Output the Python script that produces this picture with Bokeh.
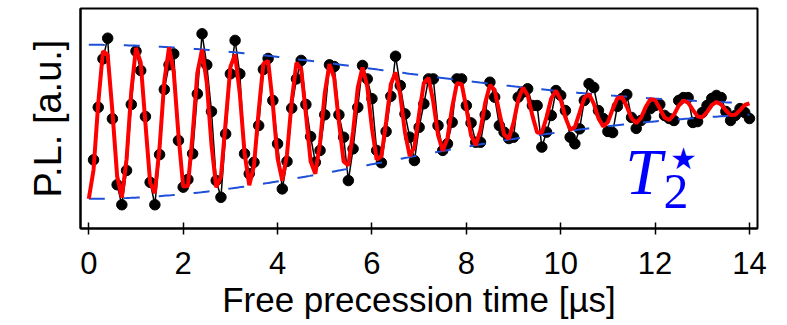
import numpy as np
from bokeh.plotting import figure
from bokeh.models import Range1d, FixedTicker, Label
from bokeh.embed import file_html
from bokeh.resources import INLINE

# ---- measured Ramsey signal (normalised PL), sampled every 0.1 us ----
t_step = 0.1
n_samples = 140
pl_signal = [
    0.312, 0.551, 0.771, 0.865, 0.499, 0.199, 0.108, 0.264, 0.564, 0.806,
    0.718, 0.509, 0.210, 0.108, 0.336, 0.632, 0.744, 0.794, 0.400, 0.188,
    0.223, 0.340, 0.612, 0.885, 0.744, 0.532, 0.218, 0.142, 0.430, 0.703,
    0.855, 0.703, 0.340, 0.249, 0.301, 0.468, 0.723, 0.773, 0.582, 0.385,
    0.180, 0.305, 0.547, 0.680, 0.764, 0.564, 0.418, 0.301, 0.355, 0.517,
    0.744, 0.736, 0.517, 0.415, 0.218, 0.362, 0.551, 0.741, 0.680, 0.590,
    0.355, 0.299, 0.441, 0.601, 0.783, 0.650, 0.521, 0.415, 0.309, 0.460,
    0.567, 0.680, 0.680, 0.468, 0.355, 0.385, 0.483, 0.680, 0.680, 0.559,
    0.480, 0.392, 0.392, 0.517, 0.665, 0.597, 0.468, 0.438, 0.409, 0.415,
    0.597, 0.620, 0.635, 0.559, 0.559, 0.370, 0.438, 0.514, 0.627, 0.605,
    0.536, 0.415, 0.385, 0.453, 0.582, 0.658, 0.641, 0.536, 0.500, 0.441,
    0.436, 0.555, 0.591, 0.609, 0.505, 0.455, 0.491, 0.505, 0.545, 0.559,
    0.564, 0.514, 0.500, 0.491, 0.582, 0.595, 0.595, 0.482, 0.486, 0.527,
    0.559, 0.591, 0.605, 0.595, 0.532, 0.491, 0.514, 0.545, 0.527, 0.500,
]
time_us = [round(t_step * (k + 1), 1) for k in range(n_samples)]

# ---- fit parameters (Gaussian-damped cosine) ----
fit_offset = 0.548      # long-time level
fit_shift = -0.063      # decaying offset
fit_amp = 0.350         # oscillation amplitude
t2_star = 8.68          # us
period = 0.6823         # us
t_peak = 0.344          # us, first maximum
fit_tmax = 14.0

x_ticks = [0, 2, 4, 6, 8, 10, 12, 14]

fit_t = np.arange(0, fit_tmax + 1e-9, t_step)
decay = np.exp(-(fit_t / t2_star) ** 2)
fit_v = fit_offset + decay * (fit_shift + fit_amp * np.cos(2 * np.pi * (fit_t - t_peak) / period))
env_t = np.linspace(0, fit_tmax, 300)
env_decay = np.exp(-(env_t / t2_star) ** 2)
env_up = fit_offset + env_decay * (fit_shift + fit_amp)
env_lo = fit_offset + env_decay * (fit_shift - fit_amp)

p = figure(width=787, height=325, x_range=Range1d(-0.176, 14.17), y_range=Range1d(0, 1),
           output_backend="svg", toolbar_location=None,
           min_border_left=80, min_border_right=30, min_border_top=8, min_border_bottom=97)
p.outline_line_color = "black"
p.outline_line_width = 2
p.outline_line_alpha = 1
p.xgrid.visible = False
p.ygrid.visible = False
p.background_fill_color = "white"

p.line(time_us, pl_signal, color="black", line_width=1.5)
p.scatter(time_us, pl_signal, size=10.5, color="black")
p.line(env_t, env_up, color="#1f4fd8", line_width=2, line_dash="16 19")
p.line(env_t, env_lo, color="#1f4fd8", line_width=2, line_dash="16 19")
p.line(fit_t, fit_v, color="#ff0000", line_width=4)

xa = p.xaxis[0]
xa.ticker = FixedTicker(ticks=x_ticks)
xa.major_tick_in = 6
xa.major_tick_out = 6
xa.major_tick_line_width = 1.5
xa.minor_tick_line_color = None
xa.axis_line_width = 2
xa.major_label_text_font = "Liberation Sans"
xa.major_label_text_font_size = "31px"
xa.major_label_text_color = "black"
xa.major_label_standoff = 17
xa.axis_label = "Free precession time [µs]"
xa.axis_label_text_font = "Liberation Sans"
xa.axis_label_text_font_size = "35px"
xa.axis_label_text_font_style = "normal"
xa.axis_label_text_color = "black"
xa.axis_label_standoff = 3

ya = p.yaxis[0]
ya.ticker = FixedTicker(ticks=[])
ya.major_label_text_font_size = "0px"
ya.major_tick_in = 0
ya.major_tick_out = 0
ya.minor_tick_line_color = None
ya.axis_line_width = 2
ya.axis_label = "P.L. [a.u.]"
ya.axis_label_text_font = "Liberation Sans"
ya.axis_label_text_font_size = "38px"
ya.axis_label_text_font_style = "normal"
ya.axis_label_text_color = "black"
ya.axis_label_standoff = 12

p.add_layout(Label(x=11.37, y=0.261, text="T", text_font="Liberation Serif",
                   text_font_style="italic", text_font_size="66px", text_color="#0000ff",
                   text_baseline="middle"))
p.add_layout(Label(x=12.18, y=0.170, text="2", text_font="Liberation Serif",
                   text_font_size="50px", text_color="#0000ff",
                   text_baseline="middle"))
p.add_layout(Label(x=12.60, y=0.316, text="★", text_font="DejaVu Sans",
                   text_font_size="30px", text_color="#0000ff",
                   text_align="center", text_baseline="middle"))

open("out.html", "w").write(file_html(p, INLINE))
